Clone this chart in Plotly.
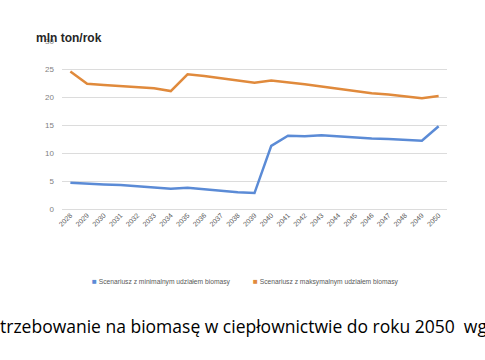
import plotly.graph_objects as go

years = [str(y) for y in range(2028, 2051)]
min_scenario = [4.7, 4.5, 4.4, 4.3, 4.1, 3.9, 3.6, 3.8, 3.5, 3.3, 3.0, 2.85,
                11.3, 13.1, 13.0, 13.2, 13.0, 12.7, 12.6, 12.5, 12.3, 12.2, 14.8]
max_scenario = [24.6, 22.4, 22.2, 22.0, 21.9, 21.6, 21.1, 24.1, 23.8, 23.4, 23.0, 22.6,
                23.0, 22.7, 22.3, 21.9, 21.5, 21.0, 20.7, 20.5, 20.2, 19.8, 20.2]
names = ["Scenariusz z minimalnym udziałem biomasy", "Scenariusz z maksymalnym udziałem biomasy"]
colors = ["#5B8BD6", "#E08A3C"]
y_ticks = [0, 5, 10, 15, 20, 25, 30]

L, R, T, B = 62, 38, 41, 151
W, H = 485, 360
pw, ph = W - L - R, H - T - B

def px(x):
    return (x - L) / pw

def py(y):
    return (H - B - y) / ph

fig = go.Figure()
fig.add_trace(go.Scatter(x=years, y=min_scenario, mode="lines", name=names[0],
                         line=dict(color=colors[0], width=2.5), showlegend=False))
fig.add_trace(go.Scatter(x=years, y=max_scenario, mode="lines", name=names[1],
                         line=dict(color=colors[1], width=2.5), showlegend=False))

fig.update_layout(
    width=W, height=H,
    margin=dict(l=L, r=R, t=T, b=B),
    paper_bgcolor="white", plot_bgcolor="white",
    font=dict(family="Liberation Sans, Arial", color="#595959"),
    xaxis=dict(type="category", range=[-0.5, 22.5], tickangle=-45,
               tickfont=dict(size=7, color="#595959"), showgrid=False,
               showline=False, ticks="", automargin=False),
    yaxis=dict(range=[0, 30.05], tickvals=y_ticks, showgrid=True, gridcolor="#DCDCDC",
               gridwidth=1, zeroline=True, zerolinecolor="#DCDCDC", zerolinewidth=1,
               tickfont=dict(size=8, color="#7F7F7F"), ticks="", ticklabelstandoff=7,
               automargin=False),
    showlegend=False,
)

# legend entries
for name, color, x0 in zip(names, colors, [91, 252]):
    fig.add_annotation(
        text=f"<span style='font-size:8px;color:{color}'>■</span> {name}",
        xref="paper", yref="paper", x=px(x0), y=py(281), xanchor="left",
        yanchor="middle", showarrow=False, borderpad=0,
        font=dict(size=6.7, color="#595959", family="Liberation Sans, Arial"))

fig.add_annotation(text="<b>mln ton/rok</b>", xref="paper", yref="paper",
                   x=px(34), y=py(38), xanchor="left", yanchor="middle", showarrow=False,
                   font=dict(size=12, color="#262626", family="Liberation Sans, Arial"))
fig.add_annotation(text="trzebowanie na biomasę w ciepłownictwie do roku 2050  wg",
                   xref="paper", yref="paper", x=px(-1), y=py(326), xanchor="left",
                   yanchor="middle", showarrow=False, borderpad=0,
                   font=dict(size=17.5, color="#000000", family="Open Sans, Liberation Sans"))

fig.write_html("out.html", config={"displayModeBar": False},
               post_script="document.body.style.margin='0';")
